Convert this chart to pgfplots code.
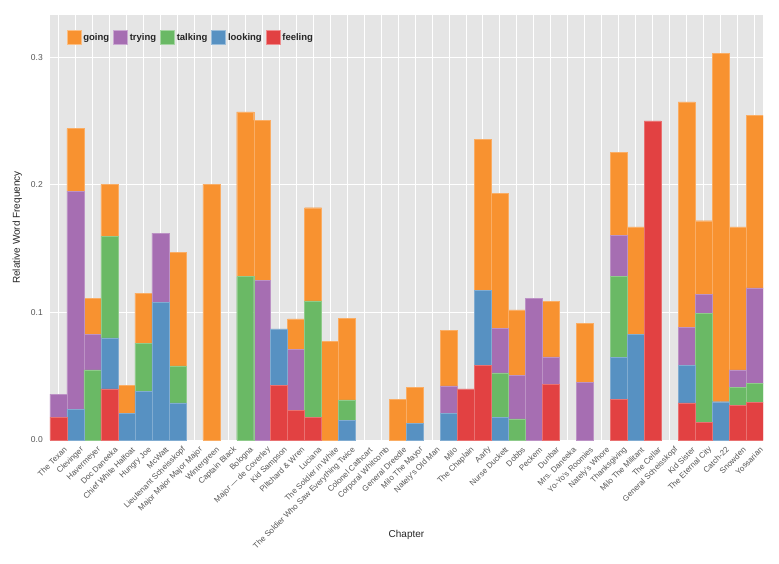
\documentclass[border=0pt]{standalone}
\usepackage{fontspec}
\setmainfont{Liberation Sans}
\usepackage{pgfplots}
\pgfplotsset{compat=1.18}
\usepackage{pgfplotstable}

\definecolor{cgoing}{RGB}{248,146,48}
\definecolor{ctrying}{RGB}{166,110,178}
\definecolor{ctalking}{RGB}{106,185,101}
\definecolor{clooking}{RGB}{87,145,194}
\definecolor{cfeeling}{RGB}{226,65,66}
\definecolor{bg}{RGB}{229,229,229}
\definecolor{tickgrey}{RGB}{85,85,85}

\pgfplotstableread{
x feeling looking talking trying going
0  0.018  0      0      0.018  0
1  0      0.024  0      0.171  0.049
2  0      0      0.055  0.028  0.028
3  0.040  0.040  0.0795 0      0.041
4  0      0.021  0      0      0.0217
5  0      0.038  0.038  0      0.039
6  0      0.108  0      0.054  0
7  0      0.029  0.029  0      0.089
8  0      0      0      0      0
9  0      0      0      0      0.2005
10 0      0      0      0      0
11 0      0      0.128  0      0.129
12 0      0      0      0.125  0.1255
13 0.043  0.044  0      0      0
14 0.023  0      0      0.048  0.024
15 0.018  0      0.091  0      0.073
16 0      0      0      0      0.0774
17 0      0.0154 0.016  0      0.064
18 0      0      0      0      0
19 0      0      0      0      0
20 0      0      0      0      0.032
21 0      0.0133 0      0      0.028
22 0      0      0      0      0
23 0      0.021  0      0.0215 0.0434
24 0.040  0      0      0      0
25 0.0586 0.0588 0      0      0.1184
26 0      0.0175 0.035  0.035  0.1056
27 0      0      0.0165 0.034  0.0515
28 0      0      0      0.111  0
29 0.0434 0      0      0.0217 0.0437
30 0      0      0      0      0
31 0      0      0      0.0452 0.046
32 0      0      0      0      0
33 0.032  0.0325 0.064  0.032  0.065
34 0      0.0828 0      0      0.0842
35 0.250  0      0      0      0
36 0      0      0      0      0
37 0.029  0.0295 0      0.0295 0.177
38 0.0141 0      0.085  0.015  0.0577
39 0      0.030  0      0      0.273
40 0.0274 0      0.0136 0.014  0.112
41 0.0295 0      0.015  0.0746 0.135
}\data

\begin{document}
\begin{tikzpicture}
\begin{axis}[
  name=ax,
  width=713pt, height=425pt, scale only axis,
  xmin=-0.5, xmax=41.5, ymin=0, ymax=0.333,
  ybar stacked, bar width=1,
  axis background/.style={fill=bg},
  axis line style={draw=none},
  tick style={draw=none},
  grid=major, major grid style={white, line width=0.8pt},
  xtick={0,...,41},
  xticklabels={The Texan,Clevinger,Havermeyer,Doc Daneeka,Chief White Halfoat,Hungry Joe,McWatt,Lieutenant Scheisskopf,Major Major Major Major,Wintergreen,Captain Black,Bologna,Major — de Coverley,Kid Sampson,Piltchard \& Wren,Luciana,The Soldier in White,The Soldier Who Saw Everything Twice,Colonel Cathcart,Corporal Whitcomb,General Dreedle,Milo The Mayor,Nately's Old Man,Milo,The Chaplain,Aarfy,Nurse Duckett,Dobbs,Peckem,Dunbar,Mrs. Daneeka,Yo-Yo's Roomies,Nately's Whore,Thanksgiving,Milo The Militant,The Cellar,General Scheisskopf,Kid Sister,The Eternal City,Catch-22,Snowden,Yossarian},
  xticklabel style={rotate=45, anchor=east, inner sep=0pt, xshift=-1pt, yshift=-11pt, font=\fontsize{8}{9}\selectfont, text=tickgrey},
  ytick={0,0.1,0.2,0.3},
  yticklabels={0.0,0.1,0.2,0.3},
  yticklabel style={anchor=east, inner sep=0pt, xshift=-7pt, font=\fontsize{8.5}{10}\selectfont, text=tickgrey},
  /pgf/number format/assume math mode=true,
  ylabel={Relative Word Frequency},
  ylabel style={at={(axis description cs:-0.046,0.5)}, anchor=center, font=\fontsize{10}{12}\selectfont, text=black!85},
  xlabel={Chapter},
  xlabel style={at={(axis description cs:0.5,-0.2235)}, anchor=center, font=\fontsize{10}{12}\selectfont, text=black!85},
  legend style={at={(0.019,0.97)}, anchor=north west, draw=none, fill=none,
    font=\bfseries\fontsize{9.5}{11}\selectfont, text=black!85,
    /tikz/every even column/.append style={column sep=2pt}},
  legend columns=5,
  legend cell align=left,
  legend image code/.code={\draw[#1] (0pt,-6.5pt) rectangle (14pt,7.5pt);},
]
\addlegendimage{fill=cgoing, draw=cgoing!60!white, line width=0.6pt}
\addlegendentry{going}
\addlegendimage{fill=ctrying, draw=ctrying!60!white, line width=0.6pt}
\addlegendentry{trying}
\addlegendimage{fill=ctalking, draw=ctalking!60!white, line width=0.6pt}
\addlegendentry{talking}
\addlegendimage{fill=clooking, draw=clooking!60!white, line width=0.6pt}
\addlegendentry{looking}
\addlegendimage{fill=cfeeling, draw=cfeeling!60!white, line width=0.6pt}
\addlegendentry{feeling}

\addplot[forget plot, fill=cfeeling, draw=cfeeling!75!white, line width=0.4pt] table[x=x, y=feeling] {\data};
\addplot[forget plot, fill=clooking, draw=clooking!75!white, line width=0.4pt] table[x=x, y=looking] {\data};
\addplot[forget plot, fill=ctalking, draw=ctalking!75!white, line width=0.4pt] table[x=x, y=talking] {\data};
\addplot[forget plot, fill=ctrying, draw=ctrying!75!white, line width=0.4pt] table[x=x, y=trying] {\data};
\addplot[forget plot, fill=cgoing, draw=cgoing!75!white, line width=0.4pt] table[x=x, y=going] {\data};
\end{axis}
\pgfresetboundingbox
\path ([xshift=-50pt,yshift=-123pt]ax.south west) rectangle ([xshift=16pt,yshift=15pt]ax.north east);
\end{tikzpicture}
\end{document}
